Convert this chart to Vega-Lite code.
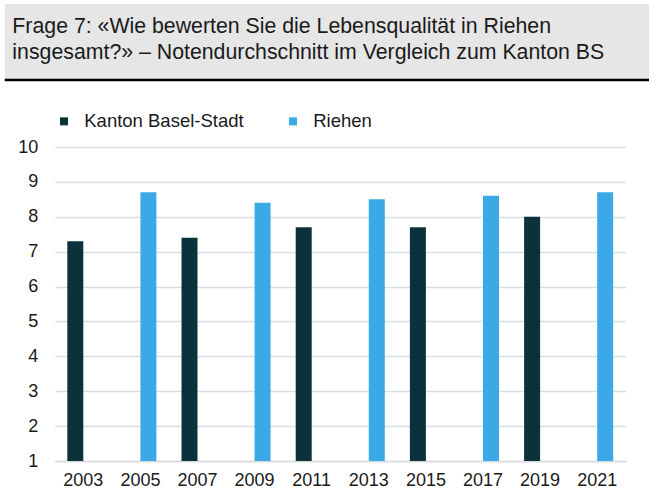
{
  "$schema": "https://vega.github.io/schema/vega-lite/v6.json",
  "background": "white",
  "padding": {"left": 2.75, "top": 4, "right": 0, "bottom": 0},
  "config": {
    "view": {"stroke": null},
    "font": "Liberation Sans",
    "concat": {"spacing": 30}
  },
  "spacing": 30,
  "resolve": {"legend": {"color": "independent"}},
  "vconcat": [
    {
      "width": 595,
      "height": 76,
      "title": {
        "text": ["Frage 7: «Wie bewerten Sie die Lebensqualität in Riehen", "insgesamt?» – Notendurchschnitt im Vergleich zum Kanton BS"],
        "anchor": "start",
        "frame": "group",
        "baseline": "bottom",
        "offset": -80,
        "dx": -42.4,
        "fontSize": 21.3,
        "fontWeight": "normal",
        "color": "#1a1a1a",
        "lineHeight": 26
      },
      "data": {"values": [{}]},
      "layer": [
        {
          "mark": {"type": "rect", "color": "#e6e6e6"},
          "encoding": {
            "x": {"datum": 0, "type": "quantitative", "scale": {"domain": [0, 1], "range": [-50, 595]}, "axis": null},
            "x2": {"datum": 1},
            "y": {"datum": 0, "type": "quantitative", "scale": {"domain": [0, 1]}, "axis": null},
            "y2": {"datum": 1}
          }
        },
        {
          "mark": {"type": "rule", "color": "#000000", "strokeWidth": 2.5},
          "encoding": {
            "x": {"datum": 0, "type": "quantitative"},
            "x2": {"datum": 1},
            "y": {"datum": 0, "type": "quantitative"}
          }
        }
      ]
    },
    {
      "width": 571,
      "height": 314,
      "data": {
        "values": [
          {"year": "2003", "series": "Kanton Basel-Stadt", "value": 7.3},
          {"year": "2005", "series": "Riehen", "value": 8.7},
          {"year": "2007", "series": "Kanton Basel-Stadt", "value": 7.4},
          {"year": "2009", "series": "Riehen", "value": 8.4},
          {"year": "2011", "series": "Kanton Basel-Stadt", "value": 7.7},
          {"year": "2013", "series": "Riehen", "value": 8.5},
          {"year": "2015", "series": "Kanton Basel-Stadt", "value": 7.7},
          {"year": "2017", "series": "Riehen", "value": 8.6},
          {"year": "2019", "series": "Kanton Basel-Stadt", "value": 8.0},
          {"year": "2021", "series": "Riehen", "value": 8.7}
        ]
      },
      "mark": {"type": "bar"},
      "encoding": {
        "x": {
          "field": "year",
          "type": "ordinal",
          "scale": {"paddingInner": 0.44, "paddingOuter": 0.22},
          "axis": {
            "title": null,
            "labelAngle": 0,
            "ticks": false,
            "domain": true,
            "domainColor": "#d9d9d9",
            "domainWidth": 1.5,
            "labelFontSize": 18,
            "labelColor": "#1a1a1a",
            "labelPadding": 10
          }
        },
        "xOffset": {
          "field": "series",
          "type": "nominal",
          "scale": {"domain": ["Kanton Basel-Stadt", "Riehen"]}
        },
        "y": {
          "field": "value",
          "type": "quantitative",
          "scale": {"domain": [1, 10], "nice": false, "zero": false},
          "axis": {
            "title": null,
            "values": [1, 2, 3, 4, 5, 6, 7, 8, 9, 10],
            "grid": true,
            "gridColor": "#d5e0e6",
            "gridWidth": 1.5,
            "domain": false,
            "ticks": false,
            "labelFontSize": 18,
            "labelColor": "#1a1a1a",
            "labelPadding": 17,
            "minExtent": 50,
            "maxExtent": 50
          }
        },
        "y2": {"datum": 1},
        "color": {
          "field": "series",
          "type": "nominal",
          "scale": {"domain": ["Kanton Basel-Stadt", "Riehen"], "range": ["#0b313b", "#3ba9e5"]},
          "legend": {
            "title": null,
            "orient": "top",
            "direction": "horizontal",
            "symbolType": "square",
            "symbolSize": 64,
            "symbolStrokeWidth": 0,
            "labelFontSize": 18.5,
            "labelColor": "#1a1a1a",
            "labelOffset": 11,
            "columnPadding": 40,
            "offset": 16
          }
        }
      }
    }
  ]
}
